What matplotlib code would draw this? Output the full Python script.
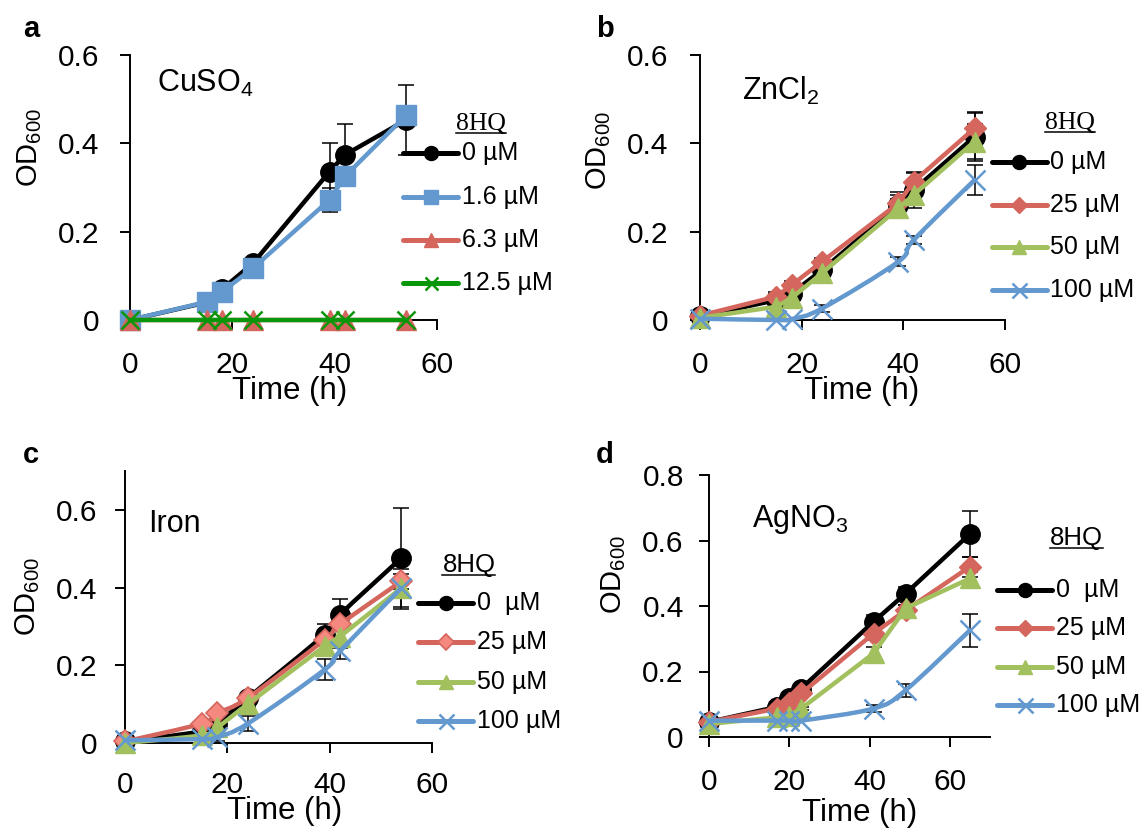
import numpy as np
import matplotlib
matplotlib.use('Agg')
import matplotlib.pyplot as plt
from matplotlib.lines import Line2D
from matplotlib.path import Path
from matplotlib.patches import PathPatch

plt.rcParams['font.family'] = ['Liberation Sans', 'DejaVu Sans']
plt.rcParams['mathtext.fontset'] = 'custom'
plt.rcParams['mathtext.rm'] = 'Liberation Sans'
plt.rcParams['mathtext.it'] = 'Liberation Sans:italic'
plt.rcParams['mathtext.bf'] = 'Liberation Sans:bold'

# ---------------- data ----------------
time_a = [0, 15, 18, 24, 39, 42, 54]
cu_0 = [0.0, 0.040, 0.070, 0.128, 0.336, 0.374, 0.453]
cu_0_err = [0, 0.005, 0.005, 0.008, 0.065, 0.070, 0.080]
cu_16 = [0.0, 0.041, 0.064, 0.117, 0.272, 0.325, 0.464]
cu_16_err = [0, 0.005, 0.005, 0.006, 0.027, 0.020, 0.010]
cu_63 = [0, 0, 0, 0, 0, 0, 0]
cu_125 = [0, 0, 0, 0, 0, 0, 0]
labels_a = ['0 µM', '1.6 µM', '6.3 µM', '12.5 µM']

time_b = [0, 15, 18, 24, 39, 42, 54]
zn_0 = [0.008, 0.045, 0.060, 0.113, 0.260, 0.294, 0.415]
zn_0_err = [0, 0.015, 0.015, 0.010, 0.030, 0.040, 0.055]
zn_25 = [0.010, 0.053, 0.079, 0.132, 0.264, 0.313, 0.434]
zn_25_err = [0, 0.010, 0.010, 0.008, 0.020, 0.020, 0.035]
zn_50 = [0.005, 0.030, 0.050, 0.106, 0.253, 0.283, 0.404]
zn_50_err = [0, 0.005, 0.005, 0.005, 0.020, 0.020, 0.040]
zn_100 = [0.003, 0.0, 0.002, 0.026, 0.132, 0.181, 0.317]
zn_100_err = [0, 0, 0, 0.008, 0.010, 0.010, 0.035]
labels_b = ['0 µM', '25 µM', '50 µM', '100 µM']

time_c = [0, 15, 18, 24, 39, 42, 54]
fe_0 = [0.004, 0.030, 0.050, 0.116, 0.279, 0.330, 0.476]
fe_0_err = [0, 0.005, 0.010, 0.010, 0.027, 0.040, 0.130]
fe_25 = [0.004, 0.050, 0.077, 0.116, 0.266, 0.305, 0.416]
fe_25_err = [0, 0.005, 0.005, 0.008, 0.015, 0.015, 0.020]
fe_50 = [0.0, 0.020, 0.040, 0.100, 0.249, 0.274, 0.399]
fe_50_err = [0, 0.005, 0.005, 0.008, 0.015, 0.030, 0.020]
fe_100 = [0.007, 0.010, 0.015, 0.050, 0.189, 0.236, 0.399]
fe_100_err = [0, 0, 0.010, 0.020, 0.026, 0.020, 0.050]
labels_c = ['0  µM', '25 µM', '50 µM', '100 µM']

time_d = [0, 17, 20, 23, 41, 49, 65]
ag_0 = [0.046, 0.092, 0.120, 0.148, 0.352, 0.438, 0.620]
ag_0_err = [0, 0.010, 0.010, 0.010, 0.020, 0.020, 0.070]
ag_25 = [0.046, 0.087, 0.105, 0.133, 0.316, 0.387, 0.520]
ag_25_err = [0, 0.010, 0.010, 0.010, 0.020, 0.015, 0.030]
ag_50 = [0.040, 0.060, 0.065, 0.087, 0.255, 0.393, 0.484]
ag_50_err = [0, 0.005, 0.005, 0.005, 0.020, 0.010, 0.020]
ag_100 = [0.050, 0.050, 0.050, 0.050, 0.087, 0.143, 0.326]
ag_100_err = [0, 0, 0, 0, 0.010, 0.020, 0.050]
labels_d = ['0  µM', '25 µM', '50 µM', '100 µM']

# ---------------- styles ----------------
BLACK = '#000000'
BLUE = '#6499cf'
RED = '#d4665d'
LGREEN = '#a2c05e'
DGREEN = '#0a960a'
PINK = '#f5897f'

st_black = dict(color=BLACK, marker='o', ms=14, mfc=BLACK, mec=BLACK, mew=1)
st_blue_sq = dict(color=BLUE, marker='s', ms=14, mfc=BLUE, mec=BLUE, mew=1)
st_red_tri = dict(color=RED, marker='^', ms=14, mfc=RED, mec=RED, mew=1)
st_green_x = dict(color=DGREEN, marker='x', ms=13, mfc=DGREEN, mec=DGREEN, mew=1.8)
st_red_dia = dict(color=RED, marker='D', ms=11, mfc=RED, mec=RED, mew=1)
st_pink_dia = dict(color=RED, marker='D', ms=11, mfc=PINK, mec=RED, mew=1.2)
st_lg_tri = dict(color=LGREEN, marker='^', ms=14, mfc=LGREEN, mec=LGREEN, mew=1)
st_blue_x = dict(color=BLUE, marker='x', ms=15, mfc=BLUE, mec=BLUE, mew=1.8)

W, H = 1148, 832
LW = 3.2
TICK_FS = 21.5
LAB_FS = 22.5
LEG_FS = 18
NOTE_FS = 22


def smooth_path(x, y):
    pts = np.column_stack([x, y]).astype(float)
    n = len(pts)
    verts = [pts[0]]
    codes = [Path.MOVETO]
    for i in range(n - 1):
        p0 = pts[max(i - 1, 0)]
        p1 = pts[i]
        p2 = pts[i + 1]
        p3 = pts[min(i + 2, n - 1)]
        verts += [p1 + (p2 - p0) / 6, p2 - (p3 - p1) / 6, p2]
        codes += [Path.CURVE4] * 3
    return Path(verts, codes)


def draw_series(ax, t, y, err, st, smooth=False):
    t = np.asarray(t, float)
    y = np.asarray(y, float)
    if err is not None:
        e = np.asarray(err, float)
        k = e > 0
        ax.errorbar(t[k], y[k], yerr=e[k], fmt='none', ecolor='k',
                    elinewidth=1.1, capsize=5.5, capthick=1.1, zorder=2,
                    clip_on=False)
    if smooth:
        ax.add_patch(PathPatch(smooth_path(t, y), fill=False, ec=st['color'],
                               lw=LW, zorder=3, clip_on=False,
                               capstyle='round', joinstyle='round'))
        ax.plot(t, y, ls='none', marker=st['marker'], ms=st['ms'],
                mfc=st['mfc'], mec=st['mec'], mew=st['mew'], zorder=3,
                clip_on=False)
    else:
        ax.plot(t, y, color=st['color'], lw=LW, marker=st['marker'],
                ms=st['ms'], mfc=st['mfc'], mec=st['mec'], mew=st['mew'],
                zorder=3, clip_on=False)


def make_axes(fig, l, t, r, b):
    ax = fig.add_axes([l / W, 1 - b / H, (r - l) / W, (b - t) / H])
    for s in ['top', 'right']:
        ax.spines[s].set_visible(False)
    for s in ['left', 'bottom']:
        ax.spines[s].set_linewidth(1.4)
    ax.tick_params(direction='out', length=7, width=1.4, labelsize=TICK_FS)
    return ax


def fmt_ticks(vals):
    return ['0' if v == 0 else f'{v:.1f}' for v in vals]


def draw_legend(fig, styles, labels, hx0, hx1, tx, ys, title, tcx, tby, serif):
    for st, lab, y in zip(styles, labels, ys):
        fy = 1 - y / H
        fig.add_artist(Line2D([hx0 / W, hx1 / W], [fy, fy], color=st['color'],
                              lw=3.6, transform=fig.transFigure,
                              solid_capstyle='round'))
        ms = st['ms'] * 0.72
        fig.add_artist(Line2D([(hx0 + hx1) / 2 / W], [fy], ls='none',
                              marker=st['marker'], ms=ms, mfc=st['mfc'],
                              mec=st['mec'], mew=st['mew'],
                              transform=fig.transFigure))
        fig.text(tx / W, fy, lab, fontsize=LEG_FS, ha='left', va='center')
    fam = ['Liberation Serif', 'DejaVu Serif'] if serif else ['Liberation Sans']
    tt = fig.text(tcx / W, 1 - tby / H, title, fontsize=18.5, ha='center',
                  va='baseline', family=fam)
    return tt


fig = plt.figure(figsize=(11.48, 8.32), dpi=100)

yt6 = [0, 0.2, 0.4, 0.6]
yt8 = [0, 0.2, 0.4, 0.6, 0.8]
xt = [0, 20, 40, 60]

# ---- panel a ----
axa = make_axes(fig, 130, 55, 437, 320)
draw_series(axa, time_a, cu_0, cu_0_err, st_black)
draw_series(axa, time_a, cu_16, cu_16_err, st_blue_sq)
draw_series(axa, time_a, cu_63, None, st_red_tri)
draw_series(axa, time_a, cu_125, None, st_green_x)
axa.set_xlim(0, 60)
axa.set_ylim(0, 0.6)
axa.set_xticks(xt)
axa.set_yticks(yt6, fmt_ticks(yt6))
axa.tick_params(axis='y', pad=15)
axa.tick_params(axis='x', pad=15)
axa.set_xlabel('Time (h)', fontsize=LAB_FS, labelpad=-2, x=0.52)
axa.set_ylabel(r'OD$_{600}$', fontsize=21, y=0.65, labelpad=10)
axa.text(0.088, 0.86, r'CuSO$_{4}$', transform=axa.transAxes, fontsize=NOTE_FS,
         va='baseline')

# ---- panel b ----
axb = make_axes(fig, 700, 55, 1005, 320)
draw_series(axb, time_b, zn_0, zn_0_err, st_black)
draw_series(axb, time_b, zn_25, zn_25_err, st_red_dia)
draw_series(axb, time_b, zn_50, zn_50_err, st_lg_tri)
draw_series(axb, time_b, zn_100, zn_100_err, st_blue_x, smooth=True)
axb.set_xlim(0, 60)
axb.set_ylim(0, 0.6)
axb.set_xticks(xt)
axb.set_yticks(yt6, fmt_ticks(yt6))
axb.tick_params(axis='y', pad=16)
axb.tick_params(axis='x', pad=15)
axb.set_xlabel('Time (h)', fontsize=LAB_FS, labelpad=-2, x=0.53)
axb.set_ylabel(r'OD$_{600}$', fontsize=21, y=0.64, labelpad=10)
axb.text(0.138, 0.83, r'ZnCl$_{2}$', transform=axb.transAxes, fontsize=NOTE_FS,
         va='baseline')

# ---- panel c ----
axc = make_axes(fig, 125, 471, 432, 743)
draw_series(axc, time_c, fe_0, fe_0_err, st_black, smooth=True)
draw_series(axc, time_c, fe_25, fe_25_err, st_pink_dia, smooth=True)
draw_series(axc, time_c, fe_50, fe_50_err, st_lg_tri, smooth=True)
draw_series(axc, time_c, fe_100, fe_100_err, st_blue_x, smooth=True)
axc.set_xlim(0, 60)
axc.set_ylim(0, 0.7)
axc.set_xticks(xt)
axc.set_yticks(yt6, fmt_ticks(yt6))
axc.tick_params(axis='y', pad=13)
axc.tick_params(axis='x', pad=13)
axc.set_xlabel('Time (h)', fontsize=LAB_FS, labelpad=-2, x=0.52)
axc.set_ylabel(r'OD$_{600}$', fontsize=21, y=0.54, labelpad=10)
axc.text(0.075, 0.776, 'Iron', transform=axc.transAxes, fontsize=NOTE_FS,
         va='baseline')

# ---- panel d ----
axd = make_axes(fig, 700, 475, 990, 737)
draw_series(axd, time_d, ag_0, ag_0_err, st_black)
draw_series(axd, time_d, ag_25, ag_25_err, st_red_dia)
draw_series(axd, time_d, ag_50, ag_50_err, st_lg_tri)
draw_series(axd, time_d, ag_100, ag_100_err, st_blue_x, smooth=True)
axd.set_xlim(-2.2, 70)
axd.set_ylim(0, 0.8)
axd.spines['left'].set_position(('data', 0))
axd.set_xticks(xt)
axd.set_yticks(yt8, fmt_ticks(yt8))
axd.tick_params(axis='y', pad=11)
axd.tick_params(axis='x', pad=15)
axd.set_xlabel('Time (h)', fontsize=LAB_FS, labelpad=2, x=0.55)
axd.set_ylabel(r'OD$_{600}$', fontsize=21, y=0.62, labelpad=10)
axd.text(0.18, 0.80, r'AgNO$_{3}$', transform=axd.transAxes, fontsize=NOTE_FS,
         va='baseline')

# ---- legends ----
titles = []
titles.append(draw_legend(fig, [st_black, st_blue_sq, st_red_tri, st_green_x], labels_a,
                          403, 458, 462, [153, 197, 240, 283], '8HQ', 481, 130, True))
titles.append(draw_legend(fig, [st_black, st_red_dia, st_lg_tri, st_blue_x], labels_b,
                          992, 1047, 1050, [162, 205, 247, 290], '8HQ', 1070, 129, True))
titles.append(draw_legend(fig, [st_black, st_pink_dia, st_lg_tri, st_blue_x], labels_c,
                          418, 473, 477, [603, 642, 682, 721], '8HQ', 469, 572, False))
titles.append(draw_legend(fig, [st_black, st_red_dia, st_lg_tri, st_blue_x], labels_d,
                          997, 1052, 1056, [590, 628, 667, 705], '8HQ', 1076, 545, False))

# panel letters
for lab, x, y in [('a', 23, 37), ('b', 596, 37), ('c', 23, 463), ('d', 596, 463)]:
    fig.text(x / W, 1 - y / H, lab, fontsize=21, fontweight='bold',
             ha='left', va='baseline')

# underline legend titles
fig.canvas.draw()
rend = fig.canvas.get_renderer()
for tt in titles:
    bb = tt.get_window_extent(rend)
    yb = tt.get_position()[1] * H - 3
    fig.add_artist(Line2D([bb.x0 / W, bb.x1 / W], [yb / H, yb / H], color='k',
                          lw=1.1, transform=fig.transFigure))

fig.savefig('out.png', dpi=100)
